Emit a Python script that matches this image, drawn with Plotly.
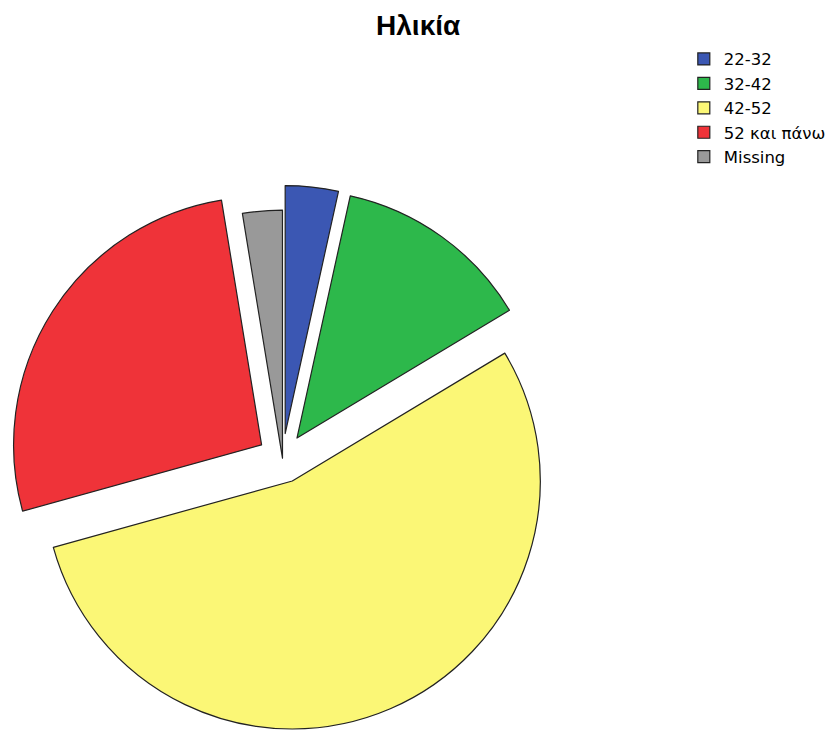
import plotly.graph_objects as go

categories = ["22-32", "32-42", "42-52", "52 και πάνω", "Missing"]
counts = [4, 15, 63, 31, 3]
colors = ["#3b57b3", "#2db84b", "#fbf776", "#ef3339", "#999999"]
pulls = [0.10, 0.10, 0.10, 0.10, 0.0]

fig = go.Figure(go.Pie(
    labels=categories,
    values=counts,
    sort=False,
    direction="clockwise",
    rotation=0,
    pull=pulls,
    textinfo="none",
    hoverinfo="label+value+percent",
    marker=dict(colors=colors, line=dict(color="#222222", width=1.2)),
    domain=dict(x=[0.0110, 0.6632], y=[0.0, 0.7464]),
))

fig.update_layout(
    width=838, height=731,
    margin=dict(l=0, r=0, t=0, b=0),
    paper_bgcolor="white",
    plot_bgcolor="white",
    title=dict(text="<b>Ηλικία</b>", x=0.499, xanchor="center", y=0.965, yanchor="middle",
               font=dict(family="Liberation Sans, Arial, sans-serif", size=28, color="black")),
    legend=dict(x=0.816, y=0.943, xanchor="left", yanchor="top",
                font=dict(family="DejaVu Sans, sans-serif", size=16.5, color="black"),
                bgcolor="rgba(0,0,0,0)", itemwidth=30, tracegroupgap=0),
    showlegend=True,
)

fig.write_html("out.html", post_script="document.body.style.margin='0px';",
               config={"displayModeBar": False})
